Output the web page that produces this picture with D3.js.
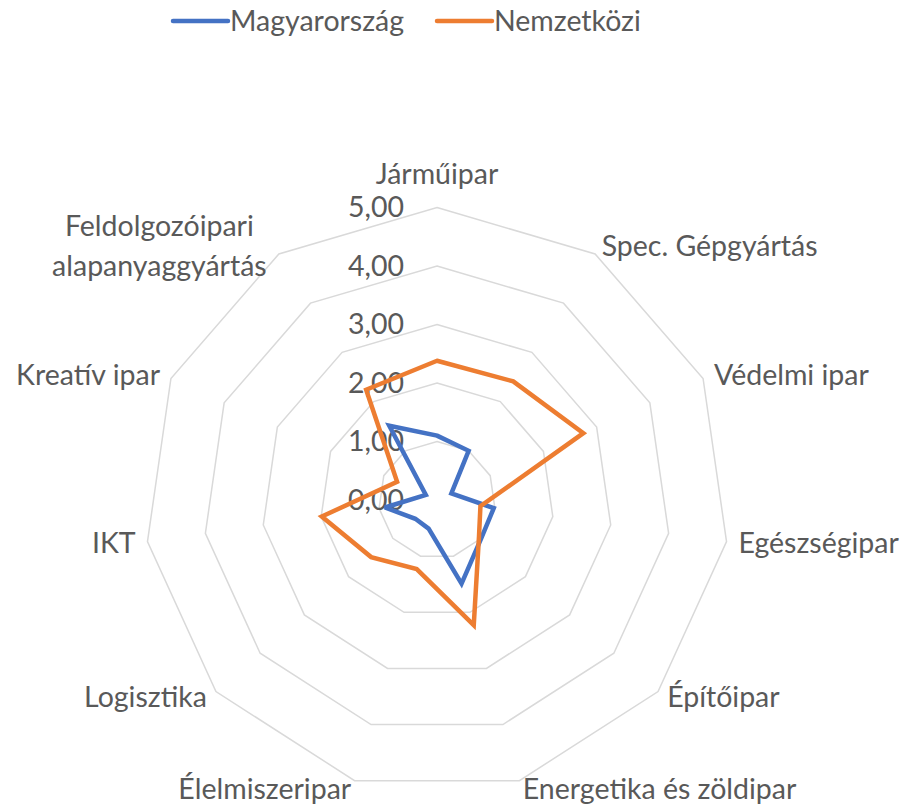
<!DOCTYPE html>
<html>
<head>
<meta charset="utf-8">
<script src="https://cdn.jsdelivr.net/npm/d3@7"></script>
<style>
  body { margin: 0; background: #fff; }
  svg text { font-family: Lato, "Open Sans", sans-serif; fill: #595959; }
</style>
</head>
<body>
<svg id="chart" width="907" height="810"></svg>
<script>
// categories, clockwise from the top
var categories = ["Járműipar", "Spec. Gépgyártás", "Védelmi ipar", "Egészségipar", "Építőipar",
  "Energetika és zöldipar", "Élelmiszeripar", "Logisztika", "IKT", "Kreatív ipar",
  "Feldolgozóipari alapanyaggyártás"];
var magyarorszag = [1.10, 1.00, 0.27, 0.98, 1.00, 1.49, 0.51, 0.49, 0.90, 0.21, 1.51];
var nemzetkozi = [2.38, 2.41, 2.75, 0.75, 0.95, 2.23, 1.23, 1.49, 1.99, 0.75, 2.24];
var seriesNames = ["Magyarország", "Nemzetközi"];
var seriesColors = ["#4472C4", "#ED7D31"];
var ticks = [0, 1, 2, 3, 4, 5];

var svg = d3.select("#chart");
var cx = 437, cy = 500;
var fontSize = 28.5;

var r = d3.scaleLinear().domain([0, 5]).range([0, 292.5]);
var angle = d3.scaleLinear().domain([0, categories.length]).range([0, 2 * Math.PI]);
var fmt = function(v) { return d3.format(".2f")(v).replace(".", ","); };

var g = svg.append("g").attr("transform", "translate(" + cx + "," + cy + ")");

// polygon grid
var gridLine = d3.lineRadial()
  .angle(function(d, i) { return angle(i); })
  .radius(function(d) { return r(d); })
  .curve(d3.curveLinearClosed);

g.selectAll(".grid")
  .data(ticks.slice(1))
  .enter().append("path")
  .attr("class", "grid")
  .attr("d", function(t) { return gridLine(categories.map(function() { return t; })); })
  .attr("fill", "none")
  .attr("stroke", "#D9D9D9")
  .attr("stroke-width", 1.5);

// value labels along the top axis
g.selectAll(".tick")
  .data(ticks)
  .enter().append("text")
  .attr("x", -33)
  .attr("y", function(t) { return -r(t); })
  .attr("dy", "0.35em")
  .attr("text-anchor", "end")
  .style("font-size", fontSize + "px")
  .text(fmt);

// category labels
function px(i, rad) { return Math.sin(angle(i)) * rad; }
function py(i, rad) { return -Math.cos(angle(i)) * rad; }

var labels = g.selectAll(".cat")
  .data(categories)
  .enter().append("text")
  .attr("class", "cat")
  .style("font-size", fontSize + "px")
  .attr("text-anchor", function(d, i) {
    var s = Math.sin(angle(i));
    return s > 0.1 ? "start" : (s < -0.1 ? "end" : "middle");
  })
  .attr("transform", function(d, i) {
    var x = px(i, r(5)) + Math.sin(angle(i)) * 12;
    var y = py(i, r(5)) - Math.cos(angle(i)) * 9;
    if (i === 0) y = py(i, r(5)) - 33;
    return "translate(" + x + "," + y + ")";
  });

labels.each(function(d, i) {
  var t = d3.select(this);
  var parts = d.length > 25 ? d.split(" ") : [d];
  var lh = 1.4;
  var x0 = 0;
  if (parts.length > 1) {
    t.attr("text-anchor", "middle");
    x0 = -113;
  }
  parts.forEach(function(p, k) {
    t.append("tspan")
      .attr("x", x0)
      .attr("dy", k === 0 ? (0.35 - (parts.length - 1) * lh / 2) + "em" : lh + "em")
      .text(p);
  });
});

// series
var seriesLine = d3.lineRadial()
  .angle(function(d, i) { return angle(i); })
  .radius(function(d) { return r(d); })
  .curve(d3.curveLinearClosed);

g.selectAll(".series")
  .data([magyarorszag, nemzetkozi])
  .enter().append("path")
  .attr("class", "series")
  .attr("d", seriesLine)
  .attr("fill", "none")
  .attr("stroke", function(d, i) { return seriesColors[i]; })
  .attr("stroke-width", 4.5)
  .attr("stroke-linejoin", "miter")
  .attr("stroke-miterlimit", 3);

// legend
var legendX = [173, 437];
var legend = svg.selectAll(".legend")
  .data(seriesNames)
  .enter().append("g")
  .attr("transform", function(d, i) { return "translate(" + legendX[i] + ",21)"; });

legend.append("line")
  .attr("x1", 0).attr("x2", 55)
  .attr("stroke", function(d, i) { return seriesColors[i]; })
  .attr("stroke-width", 4.5)
  .attr("stroke-linecap", "round");

legend.append("text")
  .attr("x", 57)
  .attr("dy", "0.35em")
  .style("font-size", fontSize + "px")
  .text(function(d) { return d; });
</script>
</body>
</html>
